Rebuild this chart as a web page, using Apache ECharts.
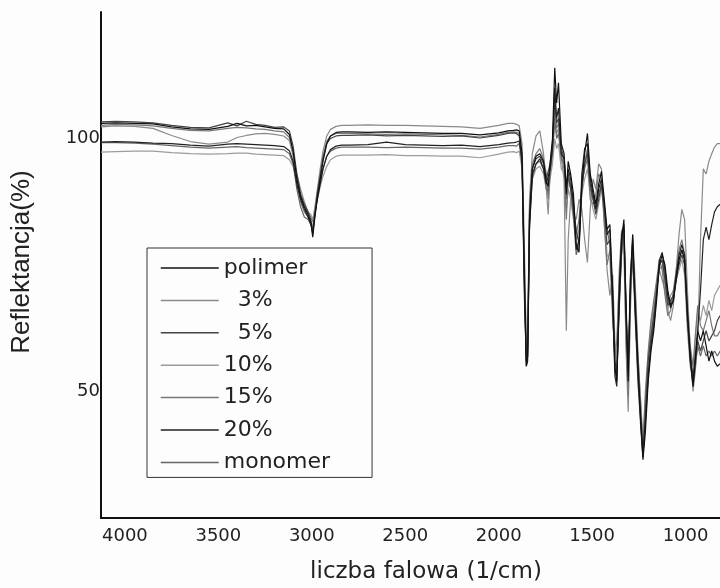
<!DOCTYPE html>
<html>
<head>
<meta charset="utf-8">
<title>Widma FTIR</title>
<script src="https://cdn.jsdelivr.net/npm/echarts@6/dist/echarts.min.js"></script>
<style>
  html, body { margin: 0; padding: 0; background: #fdfdfd; }
  #chart { width: 720px; height: 588px; }
</style>
</head>
<body>
<div id="chart"></div>
<script>
// Wavenumbers (1/cm) at which the reflectance of every sample is listed
const wavenumbers = [
  4128, 4050, 3950, 3850, 3750, 3650, 3550, 3450, 3400, 3350, 3300, 3250, 3200, 3150, 3120,
  3100, 3080, 3060, 3040, 3020, 3005, 2995, 2985, 2970, 2955, 2940, 2920, 2900, 2870, 2840,
  2800, 2700, 2600, 2500, 2400, 2300, 2200, 2100, 2000, 1950, 1920, 1905,
  1890, 1875, 1862, 1852, 1845, 1835, 1820, 1800, 1780, 1760,
  1745, 1735, 1725, 1712, 1700, 1690, 1680, 1665, 1650, 1638,
  1628, 1615, 1600, 1585, 1570, 1555, 1540, 1525, 1510, 1495,
  1480, 1465, 1450, 1435, 1420, 1405, 1390, 1378, 1368, 1355,
  1342, 1330, 1318, 1307, 1295, 1283, 1270, 1255, 1240, 1228,
  1215, 1200, 1185, 1170, 1155, 1140, 1125, 1110, 1095, 1080,
  1065, 1050, 1035, 1020, 1005, 990, 975, 960, 948, 935,
  920, 905, 890, 875, 860, 845, 830, 815
];

// Reflectance (%) per sample
const polimer = [
  103.0, 103.1, 103.0, 102.9, 102.3, 101.9, 101.8, 102.4, 103.0, 102.5, 102.6, 102.3, 102.0, 101.9, 100.8,
  97.5, 92, 88.5, 86.5, 85, 83.5, 80.5, 84, 88.5, 92, 95.5, 99, 100.5, 101.2, 101.3,
  101.3, 101.2, 101.3, 101.2, 101.1, 101.0, 101.0, 100.7, 101.1, 101.5, 101.6, 101.7,
  101.5, 97, 72, 55, 57, 84, 94, 96.5, 97, 95.5,
  91.5, 90.5, 95, 100, 114, 107, 111, 99, 97, 89,
  95.5, 93, 89, 79, 77.5, 91, 97, 101, 93, 90,
  87, 91, 93.5, 88, 82, 83, 70, 55, 52, 68,
  80, 84, 66, 52, 72, 81, 68, 56, 44, 36.5,
  42, 52, 58, 62, 68, 75, 77, 75, 70, 67,
  68, 72, 76, 78, 76, 66, 57, 51, 56, 62,
  60, 62, 59, 56, 58, 56, 55, 55.5
];
const p3 = [
  102.3, 102.5, 102.4, 102.0, 100.6, 99.4, 98.9, 99.3, 100.2, 100.6, 100.9, 101.0, 100.8, 100.5, 99.6,
  96.5, 93, 90, 87.5, 85.5, 84.5, 83.5, 86, 90, 94, 97.5, 100.5, 101.8, 102.4, 102.6,
  102.6, 102.7, 102.6, 102.6, 102.5, 102.4, 102.3, 102.0, 102.6, 103.0, 103.0, 102.8,
  102.5, 99, 78, 58, 60, 88, 97, 100.5, 101.5, 97,
  90, 85, 93, 98, 103, 101, 102, 96, 92, 62,
  80, 88, 85, 84, 88, 86, 80, 75.5, 86, 92,
  90, 95, 94, 84, 74, 69, 73, 60, 56, 74,
  82, 78, 58, 46, 66, 81, 72, 58, 47, 39,
  48, 57, 63, 67, 71, 74, 72, 70, 66, 64,
  67, 74, 81, 86, 84, 70, 58, 50, 54, 60,
  80, 94, 93, 95.5, 97, 98.3, 99, 99
];
const p5 = [
  103.3, 103.4, 103.3, 103.1, 102.6, 102.2, 102.1, 103.1, 102.5, 103.4, 102.8, 102.6, 102.2, 102.3, 101.5,
  98.5, 93, 89, 87, 85.5, 84, 81, 84.5, 89, 92.5, 96, 99, 100, 100.5, 100.6,
  100.6, 100.7, 100.5, 100.6, 100.5, 100.4, 100.5, 100.1, 100.6, 101.0, 101.1, 101.0,
  100.5, 95, 68, 56, 58, 85, 94, 96, 96.5, 95,
  92, 92, 95, 99, 108, 103, 104, 98, 96, 91,
  93, 90, 86, 82, 79, 90, 95, 97, 91, 88,
  85, 88, 91, 86, 79, 80, 66, 56, 54, 67,
  78, 82, 67, 55, 70, 78, 67, 53, 44, 37,
  46, 56, 61, 65, 70, 75, 76, 72, 67, 68,
  69, 73, 75, 77, 75, 64, 58, 53, 56, 60,
  58, 60, 62, 60, 61, 62, 64, 65
];
const p10 = [
  97.3, 97.4, 97.5, 97.5, 97.2, 97.0, 96.9, 97.0, 97.1, 97.1, 96.9, 96.8, 96.7, 96.6, 95.8,
  94.5, 91.5, 89, 86, 85.5, 85, 84, 86, 88, 90.5, 92.5, 94.5, 95.8, 96.5, 96.7,
  96.7, 96.7, 96.8, 96.6, 96.6, 96.5, 96.5, 96.2, 96.9, 97.3, 97.4, 97.2,
  97.5, 94, 75, 60, 62, 84, 92, 94, 94.5, 93,
  90, 89, 92, 95, 100, 98, 99, 94, 93, 86,
  90, 88, 84, 80, 82, 89, 92, 94, 89, 86,
  84, 87, 90, 85, 77, 76, 64, 58, 55, 69,
  77, 80, 63, 50, 68, 76, 69, 55, 46, 38,
  47, 55, 62, 66, 71, 74, 75, 71, 66, 69,
  70, 72, 74, 76, 73, 62, 55, 52, 60, 66,
  64, 67, 65, 68, 66, 69, 70, 71
];
const p15 = [
  102.6, 102.8, 102.7, 102.5, 102.0, 101.6, 101.5, 102.0, 102.2, 102.1, 101.9, 101.8, 101.5, 101.3, 100.2,
  97, 91, 87.5, 85.5, 84.5, 83, 82, 85, 89.5, 93, 96.5, 99.5, 100.5, 101, 101.0,
  101.0, 100.9, 100.8, 100.9, 100.8, 100.7, 100.6, 100.3, 100.8, 101.2, 101.3, 101.2,
  101, 96, 74, 57, 59, 86, 95, 97, 98, 96,
  93, 88, 94, 99, 106, 102, 103, 97, 94, 84,
  92, 91, 88, 81, 84, 91, 94, 96, 88, 87,
  89, 93, 92, 83, 75, 78, 70, 57, 60, 72,
  80, 81, 60, 49, 69, 79, 70, 57, 48, 40,
  50, 58, 64, 68, 72, 76, 74, 69, 65, 66,
  70, 74, 78, 80, 77, 67, 59, 55, 61, 67,
  63, 62, 64, 66, 63, 61, 61, 62
];
const p20 = [
  99.3, 99.4, 99.3, 99.1, 99.0, 98.7, 98.5, 98.9, 99.0, 98.9, 98.8, 98.7, 98.6, 98.4, 97.6,
  95.5, 91, 88, 86, 84.5, 83, 81.5, 84.5, 88, 91, 94, 96.5, 97.8, 98.5, 98.7,
  98.7, 98.8, 99.3, 98.8, 98.7, 98.6, 98.7, 98.4, 98.8, 99.1, 99.2, 99.3,
  99.5, 96, 70, 55, 56, 82, 93, 95, 96, 94,
  91, 91, 94, 98, 110, 104, 106, 97, 96, 90,
  94, 92, 87, 78, 80, 93, 98, 99, 92, 89,
  86, 90, 92, 87, 81, 82, 68, 53, 51, 70,
  81, 83, 64, 54, 73, 80, 66, 54, 45, 38,
  44, 53, 59, 63, 69, 76, 77.5, 74, 69, 66.5,
  68, 73, 77, 79, 77, 65, 56, 52, 57, 62,
  70, 80, 82.5, 80, 83, 85.5, 86.5, 87
];
const monomer = [
  99.2, 99.2, 99.1, 98.9, 98.6, 98.3, 98.1, 98.3, 98.4, 98.2, 98.1, 98.0, 97.9, 97.8, 97.0,
  95, 90, 86.5, 84.5, 84, 83, 82.5, 85, 88.5, 91.5, 94, 96.5, 97.5, 98.1, 98.3,
  98.3, 98.3, 98.2, 98.3, 98.2, 98.1, 98.1, 97.9, 98.3, 98.6, 98.6, 98.5,
  99, 95, 71, 56, 57, 83, 92, 95, 95.5, 94,
  90, 89.5, 93, 97, 104, 100, 101, 96, 95, 88,
  93, 90, 85, 77, 79, 90, 95, 98, 90, 88,
  86, 89, 91, 86, 82, 79, 67, 54, 53, 66,
  78, 82, 65, 53, 70, 77, 65, 52, 43, 37,
  45, 53, 60, 64, 70, 75, 76, 73, 68, 67,
  69, 72, 76, 78, 76, 64, 56, 51, 55, 59,
  57, 59, 57, 58, 57, 58, 57, 58
];

// Legend labels in display order
const sampleNames = ['polimer', '  3%', '  5%', '10%', '15%', '20%', 'monomer'];
// Axis labels that are printed
const xTickLabels = [4000, 3500, 3000, 2500, 2000, 1500, 1000];
const yTickLabels = [50, 100];

const samples = [
  { name: sampleNames[1], values: p3, color: '#8a8a8a' },
  { name: sampleNames[3], values: p10, color: '#9c9c9c' },
  { name: sampleNames[4], values: p15, color: '#777777' },
  { name: sampleNames[6], values: monomer, color: '#666666' },
  { name: sampleNames[2], values: p5, color: '#444444' },
  { name: sampleNames[5], values: p20, color: '#222222' },
  { name: sampleNames[0], values: polimer, color: '#111111' }
];

const chart = echarts.init(document.getElementById('chart'), null, { renderer: 'canvas' });

chart.setOption({
  backgroundColor: '#fdfdfd',
  animation: false,
  // the plot runs on past the right edge of the page (down to 500 1/cm)
  grid: { left: 101, top: 12, right: -59, bottom: 70, containLabel: false, outerBoundsMode: 'none' },
  xAxis: {
    type: 'value',
    inverse: true,
    min: 500,
    max: 4128,
    interval: 500,
    axisLine: { show: true, lineStyle: { color: '#111', width: 2 } },
    axisTick: { show: false },
    splitLine: { show: false },
    axisLabel: {
      margin: 9,
      fontSize: 18,
      fontFamily: 'DejaVu Sans',
      color: '#222',
      showMaxLabel: false,
      formatter: v => xTickLabels.includes(v) ? String(v) : ''
    }
  },
  yAxis: {
    type: 'value',
    min: 25,
    max: 125,
    interval: 25,
    axisLine: { show: true, lineStyle: { color: '#111', width: 2 } },
    axisTick: { show: false },
    splitLine: { show: false },
    axisLabel: {
      margin: 1,
      fontSize: 18,
      fontFamily: 'DejaVu Sans',
      color: '#222',
      formatter: v => yTickLabels.includes(v) ? String(v) : ''
    }
  },
  legend: {
    data: sampleNames,
    orient: 'vertical',
    left: 147,
    top: 248,
    padding: [9, 42, 4, 13],
    itemWidth: 58,
    itemHeight: 22,
    itemGap: 10.4,
    borderColor: '#333',
    borderWidth: 1,
    backgroundColor: '#fdfdfd',
    selectedMode: false,
    itemStyle: { opacity: 0 },
    lineStyle: { width: 1.5 },
    textStyle: { fontSize: 22, lineHeight: 22, fontFamily: 'DejaVu Sans', color: '#222' }
  },
  graphic: [
    {
      type: 'text',
      x: 426, y: 572,
      style: {
        text: 'liczba falowa (1/cm)',
        fontSize: 23, fontFamily: 'DejaVu Sans', fill: '#222',
        align: 'center', verticalAlign: 'middle',
        textAlign: 'center', textVerticalAlign: 'middle'
      }
    },
    {
      type: 'text',
      x: 22, y: 262,
      rotation: Math.PI / 2,
      style: {
        text: 'Reflektancja(%)',
        fontSize: 26, fontFamily: 'Liberation Sans', fill: '#222',
        align: 'center', verticalAlign: 'middle',
        textAlign: 'center', textVerticalAlign: 'middle'
      }
    }
  ],
  series: samples.map(s => ({
    type: 'line',
    name: s.name,
    data: wavenumbers.map((w, i) => [w, s.values[i]]),
    symbol: 'none',
    silent: true,
    lineStyle: { color: s.color, width: 1.2 },
    itemStyle: { color: s.color }
  }))
});
</script>
</body>
</html>
